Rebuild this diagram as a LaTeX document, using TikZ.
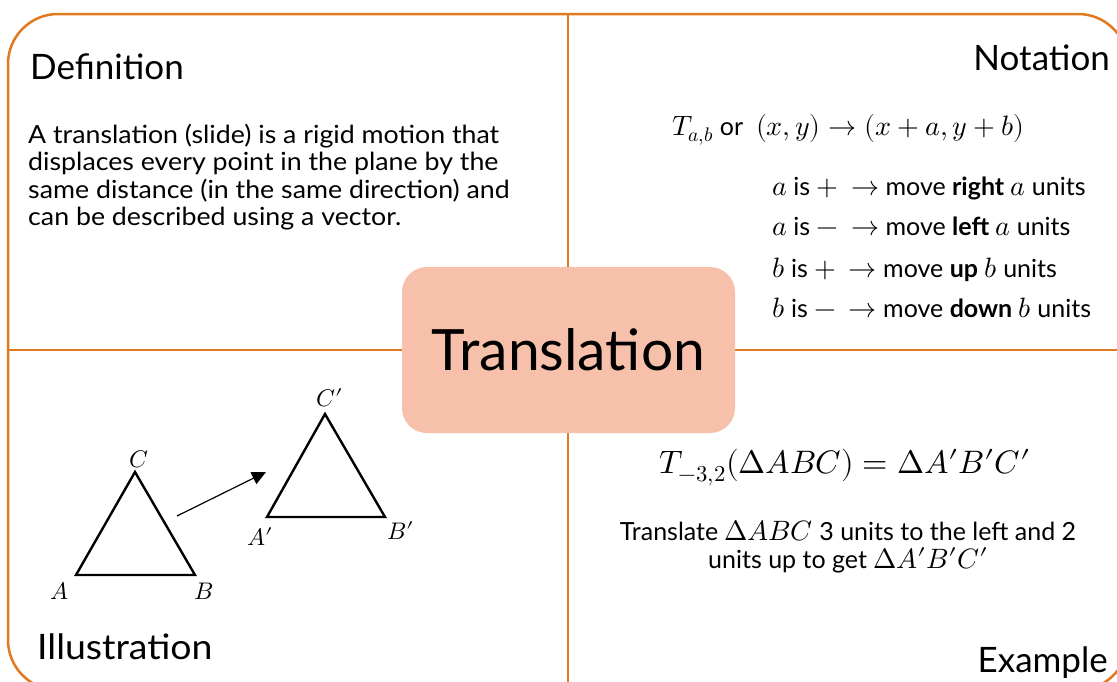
\documentclass[tikz,border=0pt]{standalone}
\usepackage{fontspec}
\usepackage{unicode-math}
\setmainfont{Lato}
\newfontfamily\widebody{Lato}[FakeStretch=1.07]
\setmathfont{Latin Modern Math}
\usetikzlibrary{arrows.meta}
\definecolor{frameorange}{RGB}{224,122,31}
\definecolor{boxfill}{RGB}{246,192,170}
\newcommand{\mm}[1]{{\fontsize{28}{28}\selectfont$#1$}}
\tikzset{
  frameline/.style={draw=frameorange, line width=2.5pt},
  heading/.style={inner sep=0pt, font=\fontsize{35}{40}\selectfont},
  body/.style={inner sep=0pt, font=\fontsize{25}{27.5}\selectfont},
  tri/.style={draw=black, line width=2.4pt, line join=miter},
  vlabel/.style={inner sep=0pt, font=\fontsize{24}{26}\selectfont},
  centerbox/.style={fill=boxfill, rounded corners=25pt, minimum width=333pt, minimum height=166pt, inner sep=0pt, font=\fontsize{57}{60}\selectfont}
}
\begin{document}
\begin{tikzpicture}[x=1pt,y=-1pt]
\useasboundingbox (0,0) rectangle (1117,681);
\clip (0,0) rectangle (1117,681);
\fill[white] (0,0) rectangle (1117,681);
% frame and dividers
\draw[frameline, rounded corners=50pt] (8,14) rectangle (1128,690);
\draw[frameline] (568,14) -- (568,690);
\draw[frameline] (8,350) -- (1128,350);
% center box
\node[centerbox] (center) at (568.5,350) {Translation};
% Definition
\node[heading, anchor=base west] (defh) at (30,79) {Definition};
\node[body, anchor=base west, align=left, font=\fontsize{25}{27.5}\widebody] (deft) at (28,225.5) {A translation (slide) is a rigid motion that\\displaces every point in the plane by the\\same distance (in the same direction) and\\can be described using a vector.};
% Notation
\node[heading, anchor=base east] (noth) at (1110,70) {Notation};
\node[body, anchor=base west] (notf) at (672,135) {\mm{T_{a,b}} or\ \ \mm{(x,y)\rightarrow(x+a,y+b)}};
\node[body, anchor=base west] (n1) at (772,195) {\mm{a} is \mm{+}\ \ \mm{\rightarrow} move \textbf{right} \mm{a} units};
\node[body, anchor=base west] (n2) at (772,235) {\mm{a} is \mm{-}\ \ \mm{\rightarrow} move \textbf{left} \mm{a} units};
\node[body, anchor=base west] (n3) at (772,277) {\mm{b} is \mm{+}\ \ \mm{\rightarrow} move \textbf{up} \mm{b} units};
\node[body, anchor=base west] (n4) at (772,317) {\mm{b} is \mm{-}\ \ \mm{\rightarrow} move \textbf{down} \mm{b} units};
% Illustration
\node[heading, anchor=base west, font=\fontsize{35}{40}\widebody] (illh) at (37,659) {Illustration};
\coordinate (A) at (76,575);
\coordinate (B) at (195,575);
\coordinate (C) at (135,472);
\coordinate (A2) at (267,517);
\coordinate (B2) at (385,517);
\coordinate (C2) at (325,414);
\draw[tri] (A) -- (B) -- (C) -- cycle;
\draw[tri] (A2) -- (B2) -- (C2) -- cycle;
\node[vlabel] (lA) at (59,591) {$A$};
\node[vlabel] (lB) at (204,591) {$B$};
\node[vlabel] (lC) at (139,459) {$C$};
\node[vlabel] (lA2) at (260,537) {$A\prime$};
\node[vlabel] (lB2) at (401,531) {$B\prime$};
\node[vlabel] (lC2) at (330,398) {$C\prime$};
\coordinate (arrS) at (177,516);
\coordinate (arrE) at (266,472);
\draw[line width=1.2pt, -{Triangle[length=14pt,width=13pt]}] (arrS) -- (arrE);
% Example
\node[heading, anchor=base east] (exh) at (1108,672) {Example};
\node[inner sep=0pt, font=\fontsize{32.5}{38}\selectfont, anchor=base] (exf) at (845,473) {$T_{-3,2}(\Delta ABC)=\Delta A\prime B\prime C\prime$};
\node[body, anchor=base, align=center] (ext) at (848,568) {Translate \mm{\Delta ABC} 3 units to the left and 2\\units up to get \mm{\Delta A\prime B\prime C\prime}};
\end{tikzpicture}
\end{document}
